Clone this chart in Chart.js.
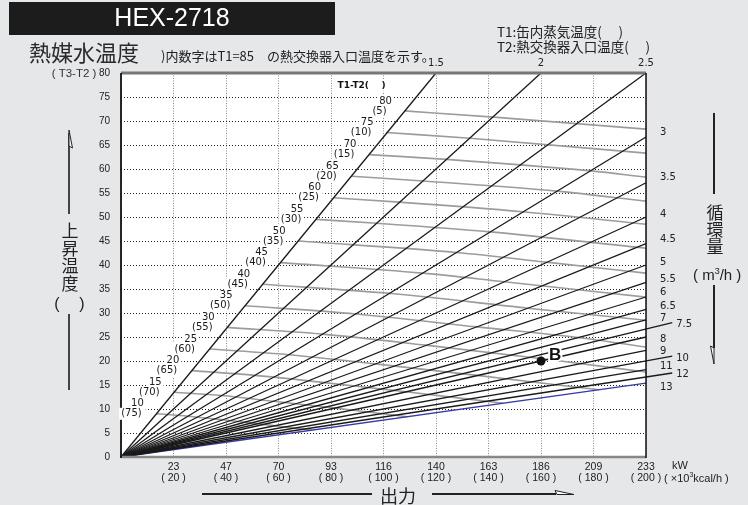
<!DOCTYPE html>
<html>
<head>
<meta charset="utf-8">
<script src="https://cdn.jsdelivr.net/npm/chart.js@4.4.1/dist/chart.umd.min.js"></script>
<style>
  html, body { margin: 0; padding: 0; background: #e6e7e9; }
  #wrap { position: relative; width: 748px; height: 505px; }
</style>
</head>
<body>
<div id="wrap"><canvas id="hexChart" width="748" height="505"></canvas></div>
<script>
// circulation flow rates (m3/h) - each one is a ray dT = Q / flow
const flowRates = [1.5, 2, 2.5, 3, 3.5, 4, 4.5, 5, 5.5, 6, 6.5, 7, 7.5, 8, 9, 10, 11, 12, 13];
// these three get a short leader past the right edge
const leaderFlows = [7.5, 10, 12];
const leaderEnd = 210;

// x axis: output in 10^3 kcal/h, labelled with kW too
const kwLabels = ['', '23', '47', '70', '93', '116', '140', '163', '186', '209', '233'];
const kcalLabels = ['', '( 20 )', '( 40 )', '( 60 )', '( 80 )', '( 100 )', '( 120 )', '( 140 )', '( 160 )', '( 180 )', '( 200 )'];

// T1-T2 curves and the matching inlet temperature at T1=85
const diffValues = [80, 75, 70, 65, 60, 55, 50, 45, 40, 35, 30, 25, 20, 15, 10];
const inletTemps = [5, 10, 15, 20, 25, 30, 35, 40, 45, 50, 55, 60, 65, 70, 75];
// [output, temperature rise] along each curve
const diffCurves = [
  [[108, 72.1], [142, 70.8], [200, 68.3]],
  [[101, 67.6], [133, 66.4], [200, 63.3]],
  [[94.5, 63.0], [124, 62.0], [179, 59.6], [200, 58.3]],
  [[87.8, 58.5], [115, 57.5], [166, 55.4], [200, 53.3]],
  [[81, 54.0], [106, 53.1], [153, 51.1], [200, 48.5]],
  [[74.3, 49.5], [97.4, 48.7], [140.6, 46.9], [200, 43.5]],
  [[67.5, 45.0], [127.8, 42.6], [162, 40.6], [200, 38.3]],
  [[60.8, 40.5], [115, 38.3], [146, 36.5], [200, 33.3]],
  [[54, 36.0], [102, 34.1], [155, 31.0], [200, 28.5]],
  [[47.3, 31.5], [89.5, 29.8], [135.6, 27.1], [174, 24.9], [200, 22.9]],
  [[40.5, 27.0], [76.7, 25.6], [116, 23.3], [163, 20.3], [200, 17.7]],
  [[33.8, 22.5], [63.9, 21.3], [96.9, 19.4], [135.6, 17.0], [182, 14.0]],
  [[27, 18.0], [51.1, 17.0], [77.5, 15.5], [108.5, 13.6], [145.6, 11.2]],
  [[20.3, 13.5], [38.3, 12.8], [58.1, 11.6], [81.4, 10.2], [109, 8.4]],
  [[13.5, 9.0], [25.6, 8.5], [38.8, 7.75], [54.2, 6.8], [72.8, 5.6]]
];

// operating point B
const pointB = { x: 160, y: 20 };

const riseMax = 80;
const outputMax = 200;

const datasets = [];

datasets.push({
  label: 'B',
  data: [pointB],
  pointRadius: 4.5,
  pointBackgroundColor: '#111',
  pointBorderWidth: 0,
  showLine: false,
  order: 0
});

flowRates.forEach(f => {
  let endX = Math.min(outputMax, riseMax * f);
  if (leaderFlows.includes(f)) endX = leaderEnd;
  datasets.push({
    label: 'flow ' + f,
    data: [{ x: 0, y: 0 }, { x: endX, y: endX / f }],
    showLine: true,
    borderColor: f === 13 ? '#3a3aa8' : '#1a1a1a',
    borderWidth: 1.3,
    pointRadius: 0,
    clip: leaderFlows.includes(f) ? false : 2,
    order: 1
  });
});

diffCurves.forEach((pts, i) => {
  datasets.push({
    label: 'T1-T2 ' + diffValues[i],
    data: pts.map(p => ({ x: p[0], y: p[1] })),
    showLine: true,
    borderColor: '#9c9c9c',
    borderWidth: 1.6,
    pointRadius: 0,
    cubicInterpolationMode: 'monotone',
    order: 2
  });
});

const txt = (ctx, s, x, y, font, color, align) => {
  ctx.font = font;
  ctx.fillStyle = color || '#222';
  ctx.textAlign = align || 'left';
  ctx.textBaseline = 'middle';
  ctx.fillText(s, x, y);
};

// a run of [text, font, dy] pieces written left to right
const runTxt = (ctx, parts, x, y) => {
  let cx = x;
  parts.forEach(([s, font, dy]) => {
    txt(ctx, s, cx, y + (dy || 0), font, '#222', 'left');
    cx += ctx.measureText(s).width;
  });
};

const boxedTxt = (ctx, s, x, y, font) => {
  ctx.font = font;
  const w = ctx.measureText(s).width;
  ctx.fillStyle = '#fff';
  ctx.fillRect(x - w / 2 - 2, y - 6, w + 4, 12);
  txt(ctx, s, x, y, font, '#1a1a1a', 'center');
};

const vText = (ctx, s, x, y0, step, font) => {
  [...s].forEach((c, i) => txt(ctx, c, x, y0 + i * step, font, '#222', 'center'));
};

const line = (ctx, x1, y1, x2, y2, w, color) => {
  ctx.beginPath();
  ctx.moveTo(x1, y1);
  ctx.lineTo(x2, y2);
  ctx.lineWidth = w;
  ctx.strokeStyle = color;
  ctx.stroke();
};

const halfHead = (ctx, pts) => {
  ctx.beginPath();
  ctx.moveTo(pts[0][0], pts[0][1]);
  pts.slice(1).forEach(p => ctx.lineTo(p[0], p[1]));
  ctx.closePath();
  ctx.lineWidth = 1;
  ctx.strokeStyle = '#222';
  ctx.fillStyle = '#fff';
  ctx.fill();
  ctx.stroke();
};

// small vertical tweaks so the flow labels don't collide
const flowNudge = { 3: -5, 3.5: -5, 4: -3, 4.5: -4, 5: -3, 5.5: -3, 6: -5, 6.5: -3, 7: -1, 7.5: 2, 8: 2, 9: 1, 10: 2, 11: -3, 12: 1, 13: 4 };

const nomogramDecor = {
  id: 'nomogramDecor',
  beforeDraw(chart) {
    const { ctx, chartArea: a } = chart;
    ctx.save();
    ctx.fillStyle = '#fff';
    ctx.fillRect(a.left, a.top, a.right - a.left, a.bottom - a.top);
    ctx.restore();
  },
  afterDatasetsDraw(chart) {
    const { ctx, chartArea: a, scales } = chart;
    const xs = scales.x, ys = scales.y;
    ctx.save();
    // frame
    line(ctx, a.left, a.top, a.right, a.top, 3, '#777');
    line(ctx, a.left, a.bottom, a.right, a.bottom, 2.5, '#888');
    line(ctx, a.left, a.top, a.left, a.bottom + 1, 1.8, '#111');
    line(ctx, a.right, a.top, a.right, a.bottom + 1, 1.5, '#111');

    // flow labels
    const fFont = '10px "DejaVu Sans"';
    flowRates.forEach(f => {
      if (riseMax * f <= outputMax) {
        txt(ctx, String(f), xs.getPixelForValue(riseMax * f), a.top - 10, fFont, '#222', 'center');
      } else if (leaderFlows.includes(f)) {
        txt(ctx, String(f), xs.getPixelForValue(leaderEnd) + 4, ys.getPixelForValue(leaderEnd / f) + (flowNudge[f] || 0), fFont, '#222', 'left');
      } else {
        txt(ctx, String(f), a.right + 14, ys.getPixelForValue(outputMax / f) + (flowNudge[f] || 0), fFont, '#222', 'left');
      }
    });

    // T1-T2 curve labels
    const dFont = '10px "DejaVu Sans"';
    diffCurves.forEach((pts, i) => {
      const sx = xs.getPixelForValue(pts[0][0]);
      const sy = ys.getPixelForValue(pts[0][1]);
      boxedTxt(ctx, String(diffValues[i]), sx - 19, sy - 10, dFont);
      boxedTxt(ctx, '(' + inletTemps[i] + ')', sx - 25, sy, dFont);
    });
    ctx.font = 'bold 9px "DejaVu Sans"';
    const hdr = 'T1-T2(\u3000\u3000)';
    const hx = xs.getPixelForValue(82.5), hy = ys.getPixelForValue(77.4);
    const hw = ctx.measureText(hdr).width;
    ctx.fillStyle = '#fff';
    ctx.fillRect(hx - 2, hy - 6, hw + 4, 12);
    txt(ctx, 'T1-T2(', hx, hy, 'bold 9px "DejaVu Sans"', '#111', 'left');
    txt(ctx, ')', hx + 44, hy, 'bold 9px "DejaVu Sans"', '#111', 'left');

    // point B label
    const bp = chart.getDatasetMeta(0).data[0];
    ctx.font = 'bold 17px "Liberation Sans"';
    ctx.textAlign = 'left';
    ctx.textBaseline = 'middle';
    ctx.lineWidth = 4;
    ctx.strokeStyle = '#fff';
    ctx.strokeText('B', bp.x + 8, bp.y - 6);
    ctx.fillStyle = '#111';
    ctx.fillText('B', bp.x + 8, bp.y - 6);
    ctx.restore();
  },
  afterDraw(chart) {
    const { ctx, chartArea: a } = chart;
    ctx.save();
    // title bar
    ctx.fillStyle = '#1c1c1c';
    ctx.fillRect(9, 2, 326, 33);
    txt(ctx, 'HEX-2718', 172, 19.5, '25px "Liberation Sans"', '#fff', 'center');

    txt(ctx, '熱媒水温度', 29, 53, '22px "Noto Sans CJK JP"', '#2a2a2a', 'left');
    txt(ctx, ')内数字はT1=85\u3000の熱交換器入口温度を示す。', 161, 56, '13px "Noto Sans CJK JP"', '#222', 'left');
    txt(ctx, 'T1:缶内蒸気温度(\u3000 )', 497, 32, '13.5px "Noto Sans CJK JP"', '#222', 'left');
    txt(ctx, 'T2:熱交換器入口温度(\u3000 )', 497, 47, '13.5px "Noto Sans CJK JP"', '#222', 'left');
    txt(ctx, '( T3-T2 )', 74, 74, '11.5px "Liberation Sans"', '#333', 'center');

    // left axis caption
    line(ctx, 69, 133, 69, 214, 2, '#444');
    halfHead(ctx, [[69, 130], [72.5, 148], [69, 146]]);
    vText(ctx, '上昇温度', 70, 231, 17.5, '17px "Noto Sans CJK JP"');
    txt(ctx, '(', 57, 305, '16px "Liberation Sans"', '#222', 'center');
    txt(ctx, ')', 82, 305, '16px "Liberation Sans"', '#222', 'center');
    line(ctx, 69, 314, 69, 390, 2, '#444');

    // right axis caption
    line(ctx, 714, 113, 714, 194, 2, '#222');
    vText(ctx, '循環量', 715, 213, 17, '17px "Noto Sans CJK JP"');
    runTxt(ctx, [
      ['( m', '15px "Liberation Sans"'],
      ['3', '9px "Liberation Sans"', -4],
      ['/h )', '15px "Liberation Sans"']
    ], 693, 276);
    line(ctx, 714, 285, 714, 348, 2, '#222');
    halfHead(ctx, [[714, 364], [710.5, 346], [714, 348]]);

    // bottom caption
    line(ctx, 202, 494, 372, 494, 2, '#222');
    txt(ctx, '出力', 398, 496, '18px "Noto Sans CJK JP"', '#222', 'center');
    line(ctx, 432, 494, 556, 494, 2, '#222');
    halfHead(ctx, [[574, 494.5], [555, 490.5], [557, 494.5]]);

    // unit labels for the x axis
    txt(ctx, 'kW', a.right + 26, 466, '11px "Liberation Sans"', '#222', 'left');
    runTxt(ctx, [
      ['( \u00d710', '11px "Liberation Sans"'],
      ['3', '7px "Liberation Sans"', -4],
      ['kcal/h )', '11px "Liberation Sans"']
    ], 664, 479);
    ctx.restore();
  }
};

const chart = new Chart(document.getElementById('hexChart'), {
  type: 'scatter',
  data: { datasets: datasets },
  options: {
    responsive: false,
    animation: false,
    devicePixelRatio: 1,
    layout: { padding: { left: 81, right: 102, top: 73, bottom: 0 } },
    scales: {
      x: {
        type: 'linear',
        min: 0,
        max: outputMax,
        afterFit: s => { s.height = 48; },
        border: { display: false, dash: [1, 1.5] },
        grid: { color: '#8a8a8a', lineWidth: 1, drawTicks: false },
        ticks: {
          stepSize: 20,
          autoSkip: false,
          maxRotation: 0,
          padding: 4,
          color: '#222',
          font: { family: 'Liberation Sans', size: 10.5, lineHeight: 1.1 },
          callback: (v, i) => [kwLabels[i], kcalLabels[i]]
        }
      },
      y: {
        type: 'linear',
        min: 0,
        max: riseMax,
        afterFit: s => { s.width = 40; },
        border: { display: false, dash: [1, 2] },
        grid: { color: '#222', lineWidth: 1, drawTicks: false },
        ticks: {
          stepSize: 5,
          padding: 11,
          color: '#222',
          font: { family: 'Liberation Sans', size: 10 }
        }
      }
    },
    plugins: {
      legend: { display: false },
      tooltip: { enabled: false }
    }
  },
  plugins: [nomogramDecor]
});
</script>
</body>
</html>
